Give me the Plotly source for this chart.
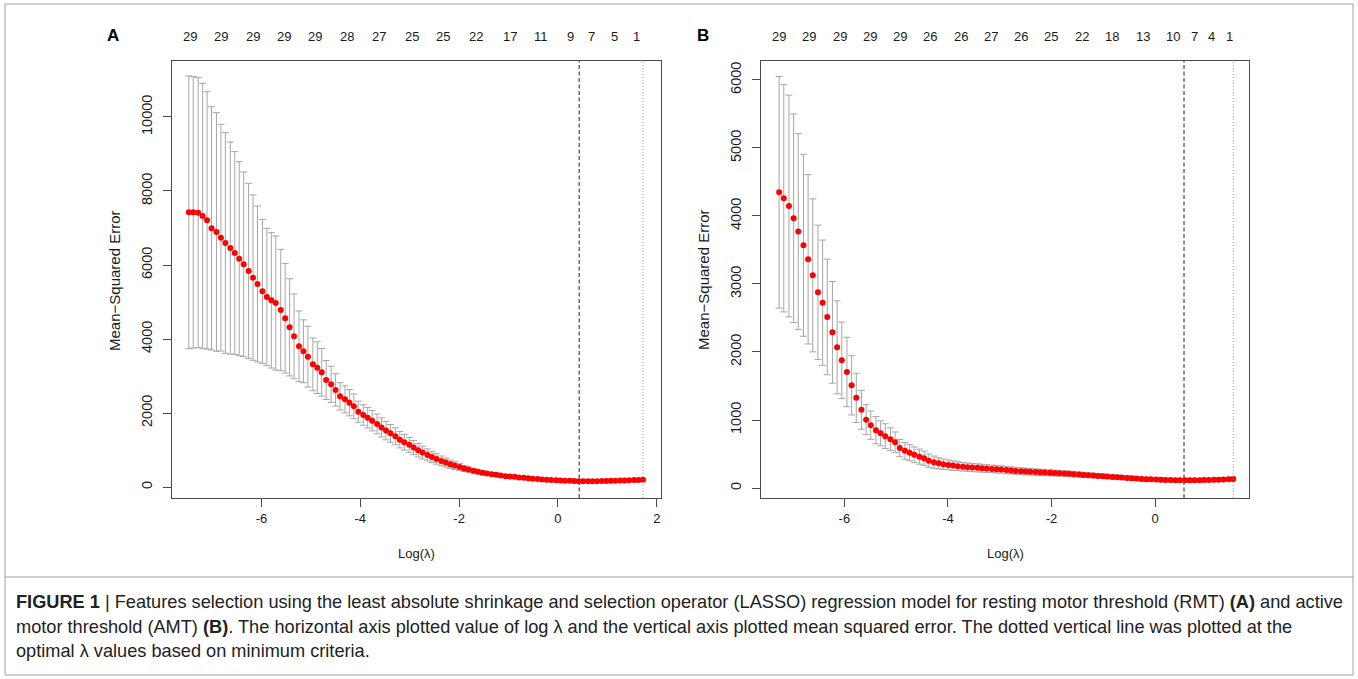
import plotly.graph_objects as go

W, H = 1358, 679

# ---------------- Panel A (RMT) ----------------
logl_A = [-7.47, -7.38, -7.28, -7.19, -7.10, -7.01, -6.91, -6.82, -6.73, -6.63,
          -6.54, -6.45, -6.36, -6.26, -6.17, -6.08, -5.98, -5.89, -5.80, -5.71,
          -5.61, -5.52, -5.43, -5.34, -5.24, -5.15, -5.06, -4.96, -4.87, -4.78,
          -4.69, -4.59, -4.50, -4.41, -4.31, -4.22, -4.13, -4.04, -3.94, -3.85,
          -3.76, -3.66, -3.57, -3.48, -3.39, -3.29, -3.20, -3.11, -3.01, -2.92,
          -2.83, -2.74, -2.64, -2.55, -2.46, -2.36, -2.27, -2.18, -2.09, -1.99,
          -1.90, -1.81, -1.71, -1.62, -1.53, -1.44, -1.34, -1.25, -1.16, -1.06,
          -0.97, -0.88, -0.79, -0.69, -0.60, -0.51, -0.41, -0.32, -0.23, -0.14,
          -0.04, 0.05, 0.14, 0.24, 0.33, 0.42, 0.51, 0.61, 0.70, 0.79,
          0.89, 0.98, 1.07, 1.16, 1.26, 1.35, 1.44, 1.54, 1.63, 1.72]
cvm_A = [7423, 7423, 7414, 7324, 7207, 6991, 6892, 6739, 6595, 6459,
         6324, 6171, 6018, 5838, 5658, 5486, 5288, 5135, 5045, 4973,
         4784, 4559, 4315, 4072, 3802, 3667, 3523, 3315, 3225, 3099,
         2892, 2775, 2622, 2450, 2369, 2279, 2180, 2036, 1946, 1874,
         1790, 1705, 1610, 1525, 1450, 1370, 1280, 1210, 1140, 1066,
         994, 931, 868, 814, 760, 706, 661, 616, 580, 544,
         502, 470, 438, 411, 384, 366, 348, 330, 312, 294,
         285, 274, 258, 247, 236, 225, 215, 206, 198, 190,
         183, 177, 171, 166, 162, 159, 158, 158, 158, 159,
         161, 163, 166, 170, 174, 178, 183, 187, 191, 195]
cvsd_A = [3685, 3667, 3649, 3586, 3477, 3288, 3225, 3063, 2982, 2865,
          2739, 2622, 2495, 2369, 2234, 2108, 1946, 1856, 1829, 1811,
          1640, 1480, 1313, 1146, 955, 850, 822, 713, 698, 644,
          527, 490, 437, 370, 365, 355, 335, 285, 277, 278,
          274, 268, 260, 250, 240, 230, 222, 212, 202, 192,
          182, 172, 162, 152, 142, 132, 122, 112, 104, 96,
          80, 72, 65, 58, 53, 49, 46, 43, 41, 39,
          37, 36, 35, 34, 33, 32, 31, 30, 30, 30,
          29, 29, 29, 29, 29, 29, 29, 29, 29, 29,
          29, 29, 29, 29, 29, 29, 29, 29, 29, 29]
nz_pos_A = [-7.45, -6.82, -6.18, -5.55, -4.91, -4.27, -3.63, -2.96, -2.32, -1.65,
            -0.97, -0.35, 0.25, 0.67, 1.14, 1.58]
nz_lab_A = ["29", "29", "29", "29", "29", "28", "27", "25", "25", "22",
            "17", "11", "9", "7", "5", "1"]
lmin_A, l1se_A = 0.43, 1.72
xticks_A = [-6, -4, -2, 0, 2]
yticks_A = [0, 2000, 4000, 6000, 8000, 10000]

# ---------------- Panel B (AMT) ----------------
logl_B = [-7.26, -7.17, -7.07, -6.98, -6.89, -6.79, -6.70, -6.61, -6.51, -6.42,
          -6.33, -6.23, -6.14, -6.05, -5.95, -5.86, -5.77, -5.67, -5.58, -5.49,
          -5.39, -5.30, -5.21, -5.11, -5.02, -4.93, -4.83, -4.74, -4.65, -4.55,
          -4.46, -4.37, -4.27, -4.18, -4.09, -3.99, -3.90, -3.81, -3.71, -3.62,
          -3.53, -3.43, -3.34, -3.25, -3.15, -3.06, -2.97, -2.87, -2.78, -2.69,
          -2.59, -2.50, -2.41, -2.31, -2.22, -2.13, -2.03, -1.94, -1.85, -1.75,
          -1.66, -1.57, -1.47, -1.38, -1.29, -1.19, -1.10, -1.01, -0.92, -0.82,
          -0.73, -0.64, -0.54, -0.45, -0.36, -0.26, -0.17, -0.08, 0.02, 0.11,
          0.20, 0.30, 0.39, 0.48, 0.58, 0.67, 0.76, 0.86, 0.95, 1.04,
          1.14, 1.23, 1.32, 1.42, 1.51]
cvm_B = [4348, 4260, 4147, 3966, 3770, 3569, 3363, 3127, 2877, 2725,
         2515, 2289, 2069, 1877, 1706, 1510, 1326, 1150, 1005, 924,
         850, 804, 762, 718, 674, 588, 546, 520, 490, 461,
         438, 402, 380, 363, 350, 340, 330, 321, 314, 306,
         301, 296, 291, 286, 281, 276, 271, 264, 258, 251,
         247, 243, 238, 234, 230, 227, 224, 220, 216, 212,
         208, 203, 198, 193, 188, 183, 178, 173, 168, 163,
         158, 153, 148, 143, 138, 133, 130, 127, 124, 121,
         119, 117, 115, 114, 113, 113, 114, 115, 116, 118,
         120, 123, 126, 129, 132]
cvsd_B = [1703, 1671, 1630, 1534, 1441, 1338, 1245, 1125, 988, 921,
          850, 748, 684, 562, 510, 436, 362, 286, 220, 208,
          200, 184, 183, 165, 150, 127, 122, 118, 114, 110,
          105, 98, 90, 82, 76, 72, 68, 65, 63, 61,
          60, 59, 58, 57, 56, 55, 54, 53, 52, 51,
          50, 49, 48, 47, 46, 45, 44, 43, 42, 41,
          40, 39, 38, 37, 36, 35, 34, 33, 33, 32,
          32, 31, 31, 30, 30, 30, 29, 29, 29, 29,
          28, 28, 28, 28, 28, 28, 28, 28, 28, 28,
          28, 28, 28, 28, 28]
nz_pos_B = [-7.27, -6.68, -6.09, -5.50, -4.92, -4.34, -3.75, -3.17, -2.58, -2.00,
            -1.41, -0.83, -0.23, 0.35, 0.76, 1.10, 1.43]
nz_lab_B = ["29", "29", "29", "29", "29", "26", "26", "27", "26", "25",
            "22", "18", "13", "10", "7", "4", "1"]
lmin_B, l1se_B = 0.56, 1.51
xticks_B = [-6, -4, -2, 0]
yticks_B = [0, 1000, 2000, 3000, 4000, 5000, 6000]

caption_lines = [
    "<b>FIGURE 1</b> | Features selection using the least absolute shrinkage and selection operator (LASSO) "
    "regression model for resting motor threshold (RMT) <b>(A)</b> and active",
    "motor threshold (AMT) <b>(B)</b>. The horizontal axis plotted value of log \u03bb and the vertical axis "
    "plotted mean squared error. The dotted vertical line was plotted at the",
    "optimal \u03bb values based on minimum criteria.",
]

FONT = "Liberation Sans, Arial, Helvetica, sans-serif"
FRAME = "#4a4a4a"
TXT = "#1a1a1a"


def fx(p):
    return p / W


def fy(p):
    return 1 - p / H


fig = go.Figure()
err_style = dict(type="data", color="#a6a6a6", thickness=1, width=3.5)
fig.add_trace(go.Scatter(x=logl_A, y=cvm_A, mode="markers", xaxis="x", yaxis="y",
                         marker=dict(color="#ff0000", size=6, line=dict(width=0)),
                         error_y=dict(array=cvsd_A, **err_style), showlegend=False))
fig.add_trace(go.Scatter(x=logl_B, y=cvm_B, mode="markers", xaxis="x2", yaxis="y2",
                         marker=dict(color="#ff0000", size=6, line=dict(width=0)),
                         error_y=dict(array=cvsd_B, **err_style), showlegend=False))

ax_common = dict(showgrid=False, zeroline=False, showline=True, mirror=True,
                 linecolor=FRAME, linewidth=1.3, ticks="outside", ticklen=8,
                 tickcolor=FRAME, tickwidth=1, automargin=False)
xfont = dict(family=FONT, size=13, color=TXT)
yfont = dict(family=FONT, size=14.5, color=TXT)

ydom = [fy(498), fy(61)]
fig.update_layout(
    width=W, height=H, margin=dict(l=0, r=0, t=0, b=0),
    paper_bgcolor="white", plot_bgcolor="white",
    xaxis=dict(domain=[fx(172), fx(661)], range=[-7.81, 2.085], anchor="y", tickfont=xfont,
               tickvals=xticks_A, ticktext=[str(v) for v in xticks_A], **ax_common),
    yaxis=dict(domain=ydom, range=[-297, 11513], anchor="x", tickangle=-90, tickfont=yfont,
               ticklabelstandoff=5,
               tickvals=yticks_A, ticktext=[str(v) for v in yticks_A], **ax_common),
    xaxis2=dict(domain=[fx(761), fx(1249)], range=[-7.61, 1.815], anchor="y2", tickfont=xfont,
                tickvals=xticks_B, ticktext=[str(v) for v in xticks_B], **ax_common),
    yaxis2=dict(domain=ydom, range=[-147, 6279], anchor="x2", tickangle=-90, tickfont=yfont,
                ticklabelstandoff=5,
                tickvals=yticks_B, ticktext=[str(v) for v in yticks_B], **ax_common),
)

shapes = []
for xr, lmin, l1se in (("x", lmin_A, l1se_A), ("x2", lmin_B, l1se_B)):
    yr = "y domain" if xr == "x" else "y2 domain"
    shapes.append(dict(type="line", xref=xr, yref=yr, x0=lmin, x1=lmin, y0=0, y1=1,
                       line=dict(color="#555555", width=1.3, dash="4px,2.5px")))
    shapes.append(dict(type="line", xref=xr, yref=yr, x0=l1se, x1=l1se, y0=0, y1=1,
                       line=dict(color="#9a9a9a", width=1, dash="1px,2px")))
# outer frame and caption separator
shapes.append(dict(type="rect", xref="paper", yref="paper", x0=fx(5), x1=fx(1353),
                   y0=fy(675), y1=fy(4), line=dict(color="#a0a0a0", width=1)))
shapes.append(dict(type="line", xref="paper", yref="paper", x0=fx(5), x1=fx(1353),
                   y0=fy(577), y1=fy(577), line=dict(color="#a0a0a0", width=1)))
fig.update_layout(shapes=shapes)

C = dict(xanchor="center", yanchor="middle", showarrow=False)
ann = []
# panel letters
ann.append(dict(text="<b>A</b>", x=fx(113), y=fy(35), xref="paper", yref="paper",
                font=dict(family=FONT, size=17, color="black"), **C))
ann.append(dict(text="<b>B</b>", x=fx(703), y=fy(35), xref="paper", yref="paper",
                font=dict(family=FONT, size=17, color="black"), **C))
# number of nonzero coefficients along the top
for xr, pos, labs in (("x", nz_pos_A, nz_lab_A), ("x2", nz_pos_B, nz_lab_B)):
    for p, l in zip(pos, labs):
        ann.append(dict(text=l, x=p, y=fy(36), xref=xr, yref="paper",
                        font=dict(family=FONT, size=13, color=TXT), **C))
# axis titles
for cx in (416.5, 1005):
    ann.append(dict(text="Log(\u03bb)", x=fx(cx), y=fy(553), xref="paper", yref="paper",
                    font=dict(family=FONT, size=13, color=TXT), **C))
for cx in (114, 703):
    ann.append(dict(text="Mean\u2212Squared Error", x=fx(cx), y=fy(280), xref="paper",
                    yref="paper", textangle=-90,
                    font=dict(family=FONT, size=15, color=TXT), **C))
# caption
for i, line in enumerate(caption_lines):
    ann.append(dict(text=line, x=fx(14), y=fy([602, 627, 651][i]), xref="paper", yref="paper",
                    xanchor="left", yanchor="middle", showarrow=False,
                    font=dict(family=FONT, size=18.2, color="#222222")))
fig.update_layout(annotations=ann)

fig.write_html("out.html", config={"displayModeBar": False},
               post_script="document.body.style.margin='0';document.body.style.padding='0';"
                           "document.body.style.overflow='hidden';")
